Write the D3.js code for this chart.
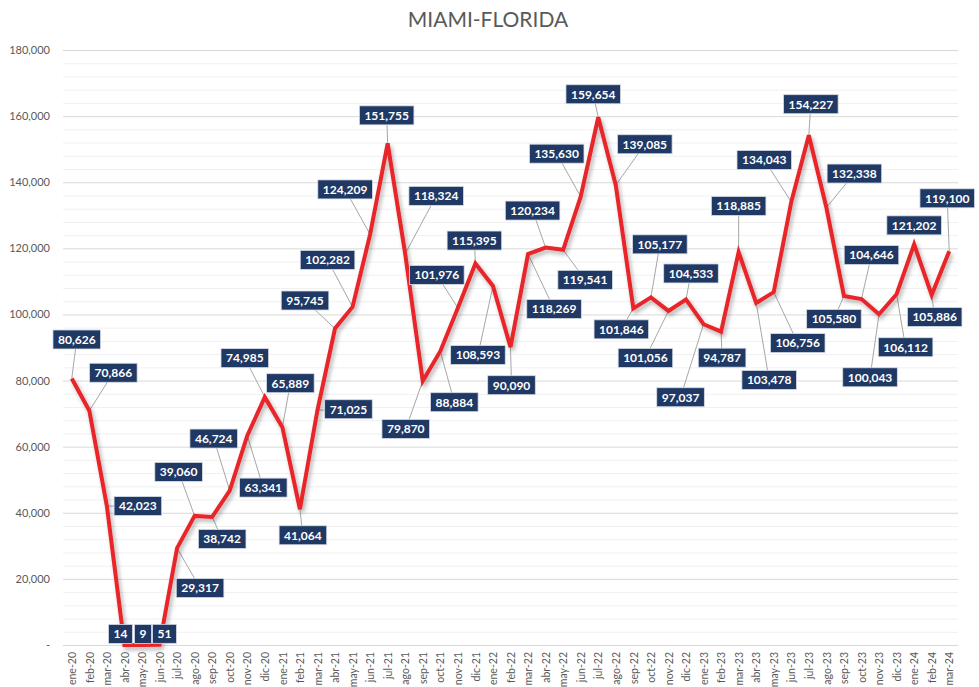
<!DOCTYPE html>
<html>
<head>
<meta charset="utf-8">
<script src="https://cdn.jsdelivr.net/npm/d3@7"></script>
<style>
  body { margin: 0; background: #fff; }
  svg { font-family: Lato, "Open Sans", sans-serif; }
</style>
</head>
<body>
<svg id="chart" width="979" height="687"></svg>
<script>
// months shown on the x axis
const months = [
  'ene-20','feb-20','mar-20','abr-20','may-20','jun-20','jul-20','ago-20','sep-20','oct-20','nov-20','dic-20',
  'ene-21','feb-21','mar-21','abr-21','may-21','jun-21','jul-21','ago-21','sep-21','oct-21','nov-21','dic-21',
  'ene-22','feb-22','mar-22','abr-22','may-22','jun-22','jul-22','ago-22','sep-22','oct-22','nov-22','dic-22',
  'ene-23','feb-23','mar-23','abr-23','may-23','jun-23','jul-23','ago-23','sep-23','oct-23','nov-23','dic-23',
  'ene-24','feb-24','mar-24'
];

// monthly values
const values = [
  80626, 70866, 42023, 14, 9, 51, 29317, 39060, 38742, 46724, 63341, 74985,
  65889, 41064, 71025, 95745, 102282, 124209, 151755, 118324, 79870, 88884, 101976, 115395,
  108593, 90090, 118269, 120234, 119541, 135630, 159654, 139085, 101846, 105177, 101056, 104533,
  97037, 94787, 118885, 103478, 106756, 134043, 154227, 132338, 105580, 104646, 100043, 106112,
  121202, 105886, 119100
];

// y axis ticks
const yTicks = [0, 20000, 40000, 60000, 80000, 100000, 120000, 140000, 160000, 180000];

// where each data label box sits relative to its point (px)
const labelOffsets = [
  [5,-39],[24,-38],[31,0],[-4,-11],[1,-11],[5,-11],[23,40],[-16,-44],[10,22],[-16,-52],[16,52],[-20,-39],
  [8,-44],[3,26],[31,-1],[-30,-28],[-25,-47],[-25,-45],[-1,-28],[31,-58],[-17,48],[14,51],[-21,-33],[-1,-23],
  [-15,69],[1,38],[26,55],[-13,-37],[22,30],[-24,-43],[-5,-23],[29,-41],[-12,21],[9,-53],[-23,47],[5,-26],
  [-23,73],[1,26],[0,-46],[13,77],[24,51],[-27,-42],[2,-31],[28,-34],[-10,23],[10,-44],[-9,63],[9,53],
  [0,-19],[3,22],[-2,-53]
];

const svg = d3.select('#chart');
const plotLeft = 63, plotRight = 958, plotTop = 50, plotBottom = 645;

const x = d3.scalePoint().domain(months).range([plotLeft, plotRight]).padding(0.5);
const y = d3.scaleLinear().domain([0, 180000]).range([plotBottom, plotTop]);

const fmt = d3.format(',');

// shadow under the line
const defs = svg.append('defs');
defs.append('filter').attr('id', 'shadow')
  .attr('x', '-10%').attr('y', '-10%').attr('width', '120%').attr('height', '120%')
  .append('feDropShadow')
  .attr('dx', 2).attr('dy', 3).attr('stdDeviation', 2)
  .attr('flood-color', '#000').attr('flood-opacity', 0.3);

// title
svg.append('text')
  .attr('x', 488).attr('y', 27)
  .attr('text-anchor', 'middle')
  .attr('font-size', 21)
  .attr('fill', '#595959')
  .text('MIAMI-FLORIDA');

// minor gridlines
const minor = d3.range(0, 180001, 4000).filter(v => v % 20000 !== 0);
svg.append('g').selectAll('line')
  .data(minor)
  .enter()
  .append('line')
  .attr('x1', plotLeft).attr('x2', plotRight)
  .attr('y1', d => y(d) + 0.5).attr('y2', d => y(d) + 0.5)
  .attr('stroke', '#F0F0F0');

// major gridlines
svg.append('g').selectAll('line')
  .data(yTicks)
  .enter()
  .append('line')
  .attr('x1', plotLeft).attr('x2', plotRight)
  .attr('y1', d => y(d) + 0.5).attr('y2', d => y(d) + 0.5)
  .attr('stroke', '#D9D9D9');

// y axis labels
const yAxis = svg.append('g')
  .attr('transform', `translate(${plotLeft - 13},0)`)
  .call(d3.axisLeft(y).tickValues(yTicks).tickSize(0).tickPadding(0)
    .tickFormat(d => d === 0 ? '-' : fmt(d)));
yAxis.select('.domain').remove();
yAxis.selectAll('text')
  .attr('font-family', 'Lato, "Open Sans", sans-serif')
  .attr('font-size', 11)
  .attr('fill', '#595959');

// x axis labels
const xAxis = svg.append('g')
  .attr('transform', `translate(0,${plotBottom})`)
  .call(d3.axisBottom(x).tickSize(0).tickPadding(0));
xAxis.select('.domain').remove();
xAxis.selectAll('text')
  .attr('font-family', 'Lato, "Open Sans", sans-serif')
  .attr('font-size', 10.5)
  .attr('fill', '#595959')
  .attr('text-anchor', 'end')
  .attr('dy', '0.35em')
  .attr('transform', 'translate(0,7) rotate(-90)');

const points = months.map((m, i) => ({
  m, v: values[i], px: x(m), py: y(values[i]),
  lx: x(m) + labelOffsets[i][0], ly: y(values[i]) + labelOffsets[i][1]
}));

// leader lines
svg.append('g').selectAll('line')
  .data(points.filter(d => Math.hypot(d.lx - d.px, d.ly - d.py) > 20))
  .enter()
  .append('line')
  .attr('x1', d => d.px).attr('y1', d => d.py)
  .attr('x2', d => d.lx).attr('y2', d => d.ly)
  .attr('stroke', '#A6A6A6')
  .attr('stroke-width', 1);

// the series line
const line = d3.line().x(d => d.px).y(d => d.py);
svg.append('path')
  .datum(points)
  .attr('d', line)
  .attr('fill', 'none')
  .attr('stroke', '#E8262B')
  .attr('stroke-width', 4)
  .attr('stroke-linejoin', 'miter')
  .attr('filter', 'url(#shadow)');

// data labels
const labels = svg.append('g').selectAll('g')
  .data(points)
  .enter()
  .append('g')
  .attr('transform', d => `translate(${d.lx},${d.ly})`);

labels.append('rect');
labels.append('text')
  .attr('text-anchor', 'middle')
  .attr('dy', '0.36em')
  .attr('font-size', 12)
  .attr('font-weight', 'bold')
  .attr('fill', '#fff')
  .text(d => fmt(d.v));

labels.each(function() {
  const g = d3.select(this);
  const w = g.select('text').node().getComputedTextLength() + 10;
  g.select('rect')
    .attr('x', -w / 2).attr('y', -9.5)
    .attr('width', w).attr('height', 19)
    .attr('fill', '#1F3864')
    .attr('stroke', '#D6DCE5')
    .attr('stroke-width', 0.8);
});
</script>
</body>
</html>
